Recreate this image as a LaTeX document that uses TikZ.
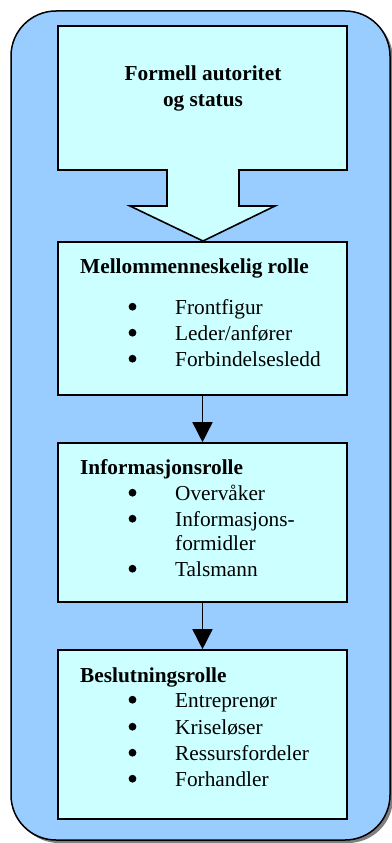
\documentclass[tikz,border=0pt]{standalone}
\usepackage{fontspec}
\setmainfont{Liberation Serif}
\usetikzlibrary{arrows.meta}
\definecolor{panelblue}{HTML}{99CCFF}
\definecolor{boxcyan}{HTML}{CCFFFF}
\definecolor{shadowgray}{HTML}{7F7F7F}
\begin{document}
\begin{tikzpicture}[x=1pt,y=-1pt,
  box/.style={draw=black, line width=1.6pt, fill=boxcyan, minimum width=289pt, inner sep=0pt},
  heading/.style={anchor=base west, inner sep=0pt, font=\fontsize{21.3}{25}\selectfont\bfseries},
  title/.style={anchor=base, inner sep=0pt, font=\fontsize{21.3}{25}\selectfont\bfseries},
  entry/.style={anchor=base west, inner sep=0pt, font=\fontsize{21.3}{25}\selectfont},
  bulletmark/.style={circle, fill=black, minimum size=7.8pt, inner sep=0pt},
  flow/.style={line width=1.6pt, -{Triangle[length=20pt,width=20pt]}}]
\useasboundingbox (0,0) rectangle (391,843);

% rounded panel with its drop shadow
\fill[shadowgray, rounded corners=45pt] (14,14) rectangle (393,843);
\filldraw[fill=panelblue, line width=1.5pt, rounded corners=45pt] (11,11) rectangle (390,840);

% top box merged with its broad down arrow
\filldraw[fill=boxcyan, line width=1.6pt, line join=miter]
  (58,26) -- (347,26) -- (347,170) -- (239,170) -- (239,206) -- (275,206)
  -- (203,241) -- (130,206) -- (167,206) -- (167,170) -- (58,170) -- cycle;
\node[title] (t1) at (203,81) {Formell autoritet};
\node[title] (t2) at (203,106) {og status};

% role boxes
\node[box, minimum height=153pt] (b2) at (202.5,318.5) {};
\node[box, minimum height=159pt] (b3) at (202.5,522.5) {};
\node[box, minimum height=169pt] (b4) at (202.5,734.5) {};

\draw[flow] (b2.south) -- (b3.north);
\draw[flow] (b3.south) -- (b4.north);

% Mellommenneskelig rolle
\node[heading] (h2) at (80,273) {Mellommenneskelig rolle};
\node[bulletmark] (p21) at (132.5,306.7) {};
\node[entry] (e21) at (175,314) {Frontfigur};
\node[bulletmark] (p22) at (132.5,332.7) {};
\node[entry] (e22) at (175,340) {Leder/anfører};
\node[bulletmark] (p23) at (132.5,358.7) {};
\node[entry] (e23) at (175,366) {Forbindelsesledd};

% Informasjonsrolle
\node[heading] (h3) at (80,474) {Informasjonsrolle};
\node[bulletmark] (p31) at (132.5,492.7) {};
\node[entry] (e31) at (175,500) {Overvåker};
\node[bulletmark] (p32) at (132.5,518.7) {};
\node[entry] (e32) at (175,526) {Informasjons-};
\node[entry] (e32b) at (175,550) {formidler};
\node[bulletmark] (p33) at (132.5,568.7) {};
\node[entry] (e33) at (175,576) {Talsmann};

% Beslutningsrolle
\node[heading] (h4) at (80,682) {Beslutningsrolle};
\node[bulletmark] (p41) at (132.5,699.7) {};
\node[entry] (e41) at (175,707) {Entreprenør};
\node[bulletmark] (p42) at (132.5,726.7) {};
\node[entry] (e42) at (175,734) {Kriseløser};
\node[bulletmark] (p43) at (132.5,752.7) {};
\node[entry] (e43) at (175,760) {Ressursfordeler};
\node[bulletmark] (p44) at (132.5,778.7) {};
\node[entry] (e44) at (175,786) {Forhandler};
\end{tikzpicture}
\end{document}
